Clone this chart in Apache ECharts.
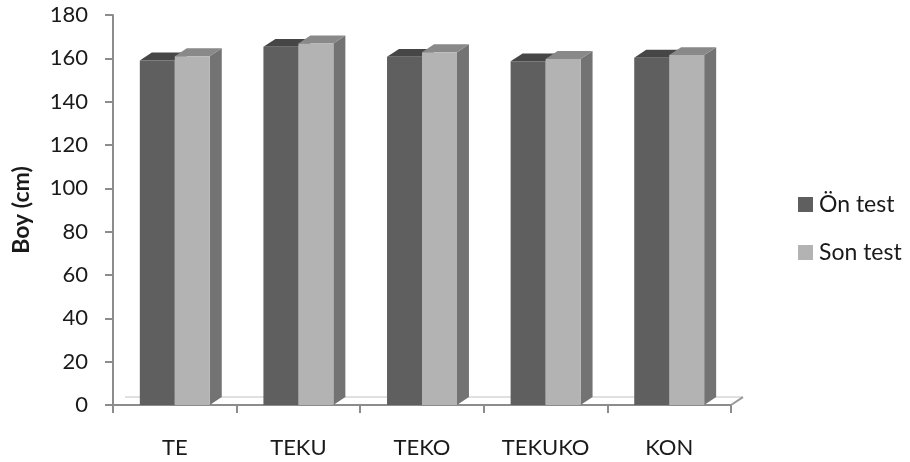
<!DOCTYPE html>
<html>
<head>
<meta charset="utf-8">
<script src="https://cdn.jsdelivr.net/npm/echarts@6/dist/echarts.min.js"></script>
<style>
html,body{margin:0;padding:0;background:#fff;}
#main{width:910px;height:462px;}
</style>
</head>
<body>
<div id="main"></div>
<script>
var categories = ['TE', 'TEKU', 'TEKO', 'TEKUKO', 'KON'];
var onTest = [159, 165.3, 160.7, 158.6, 160.3];
var sonTest = [161, 166.9, 162.8, 159.7, 161.5];
var yTicks = [0, 20, 40, 60, 80, 100, 120, 140, 160, 180];

var FONT = 'Lato';
var faces = [
    {front: '#5f5f5f', top: '#464646', side: '#525252'},
    {front: '#b3b3b3', top: '#898989', side: '#737373'}
];

// kutu çiz: ön yüz, üst, yan
function box(idx){
    return function(params, api){
        var cat = api.value(0), v = api.value(1);
        var top = api.coord([cat, v]);
        var base = api.coord([cat, 0]);
        var band = api.size([1, 0])[0];
        var w = band * 0.283;
        var dx = band * 0.097, dy = dx * 0.66;
        var x0 = idx === 0 ? top[0] - w : top[0];
        var x1 = x0 + w;
        var c = faces[idx];
        return {
            type: 'group',
            children: [
                {type: 'polygon', shape: {points: [[x1, top[1]], [x1 + dx, top[1] - dy], [x1 + dx, base[1] - dy], [x1, base[1]]]},
                    style: {fill: c.side}},
                {type: 'polygon', shape: {points: [[x0, top[1]], [x0 + dx, top[1] - dy], [x1 + dx, top[1] - dy], [x1, top[1]]]},
                    style: {fill: c.top}},
                {type: 'rect', shape: {x: x0, y: top[1], width: w, height: base[1] - top[1]},
                    style: {fill: c.front}}
            ]
        };
    };
}

function floor(params, api){
    var cs = params.coordSys;
    var band = api.size([1, 0])[0];
    var dx = band * 0.097, dy = dx * 0.66;
    var y0 = api.coord([0, 0])[1];
    var xr = cs.x + cs.width;
    return {
        type: 'group',
        children: [
            {type: 'line', shape: {x1: cs.x + dx, y1: y0 - dy, x2: xr + dx, y2: y0 - dy},
                style: {stroke: '#e0e0e0', lineWidth: 2}},
            {type: 'line', shape: {x1: xr, y1: y0, x2: xr + dx, y2: y0 - dy},
                style: {stroke: '#9a9a9a', lineWidth: 2}}
        ]
    };
}

var myChart = echarts.init(document.getElementById('main'));
var option = {
    animation: false,
    grid: {left: 113, right: 179, top: 15, bottom: 57, containLabel: false, outerBoundsMode: 'none'},
    legend: {
        orient: 'vertical',
        left: 798,
        top: 193,
        padding: 0,
        itemGap: 25,
        itemWidth: 15,
        itemHeight: 15,
        icon: 'rect',
        data: ['Ön test', 'Son test'],
        textStyle: {fontFamily: FONT, fontSize: 23, color: '#1a1a1a', padding: [0, 0, 0, 1]}
    },
    xAxis: {
        type: 'category',
        data: categories,
        boundaryGap: true,
        axisLine: {lineStyle: {color: '#8c8c8c', width: 2}},
        axisTick: {show: true, length: 8, lineStyle: {color: '#8c8c8c', width: 2}},
        axisLabel: {fontFamily: FONT, fontSize: 22, color: '#1a1a1a', margin: 32}
    },
    yAxis: {
        type: 'value',
        min: yTicks[0],
        max: yTicks[yTicks.length - 1],
        interval: 20,
        name: 'Boy (cm)',
        nameLocation: 'middle',
        nameGap: 80,
        nameRotate: 90,
        nameTextStyle: {fontFamily: FONT, fontSize: 23, fontWeight: 'bold', color: '#1a1a1a'},
        axisLine: {show: true, lineStyle: {color: '#8c8c8c', width: 2}},
        axisTick: {show: true, length: 8, lineStyle: {color: '#8c8c8c', width: 2}},
        splitLine: {show: false},
        axisLabel: {fontFamily: FONT, fontSize: 22, color: '#1a1a1a', margin: 25}
    },
    series: [
        {
            name: 'floor',
            type: 'custom',
            renderItem: floor,
            data: [[0, 0]],
            silent: true,
            z: 1
        },
        {
            name: 'Ön test',
            type: 'custom',
            renderItem: box(0),
            itemStyle: {color: faces[0].front},
            data: onTest.map(function(v, i){ return [i, v]; }),
            z: 2
        },
        {
            name: 'Son test',
            type: 'custom',
            renderItem: box(1),
            itemStyle: {color: faces[1].front},
            data: sonTest.map(function(v, i){ return [i, v]; }),
            z: 3
        }
    ]
};
myChart.setOption(option);
</script>
</body>
</html>
